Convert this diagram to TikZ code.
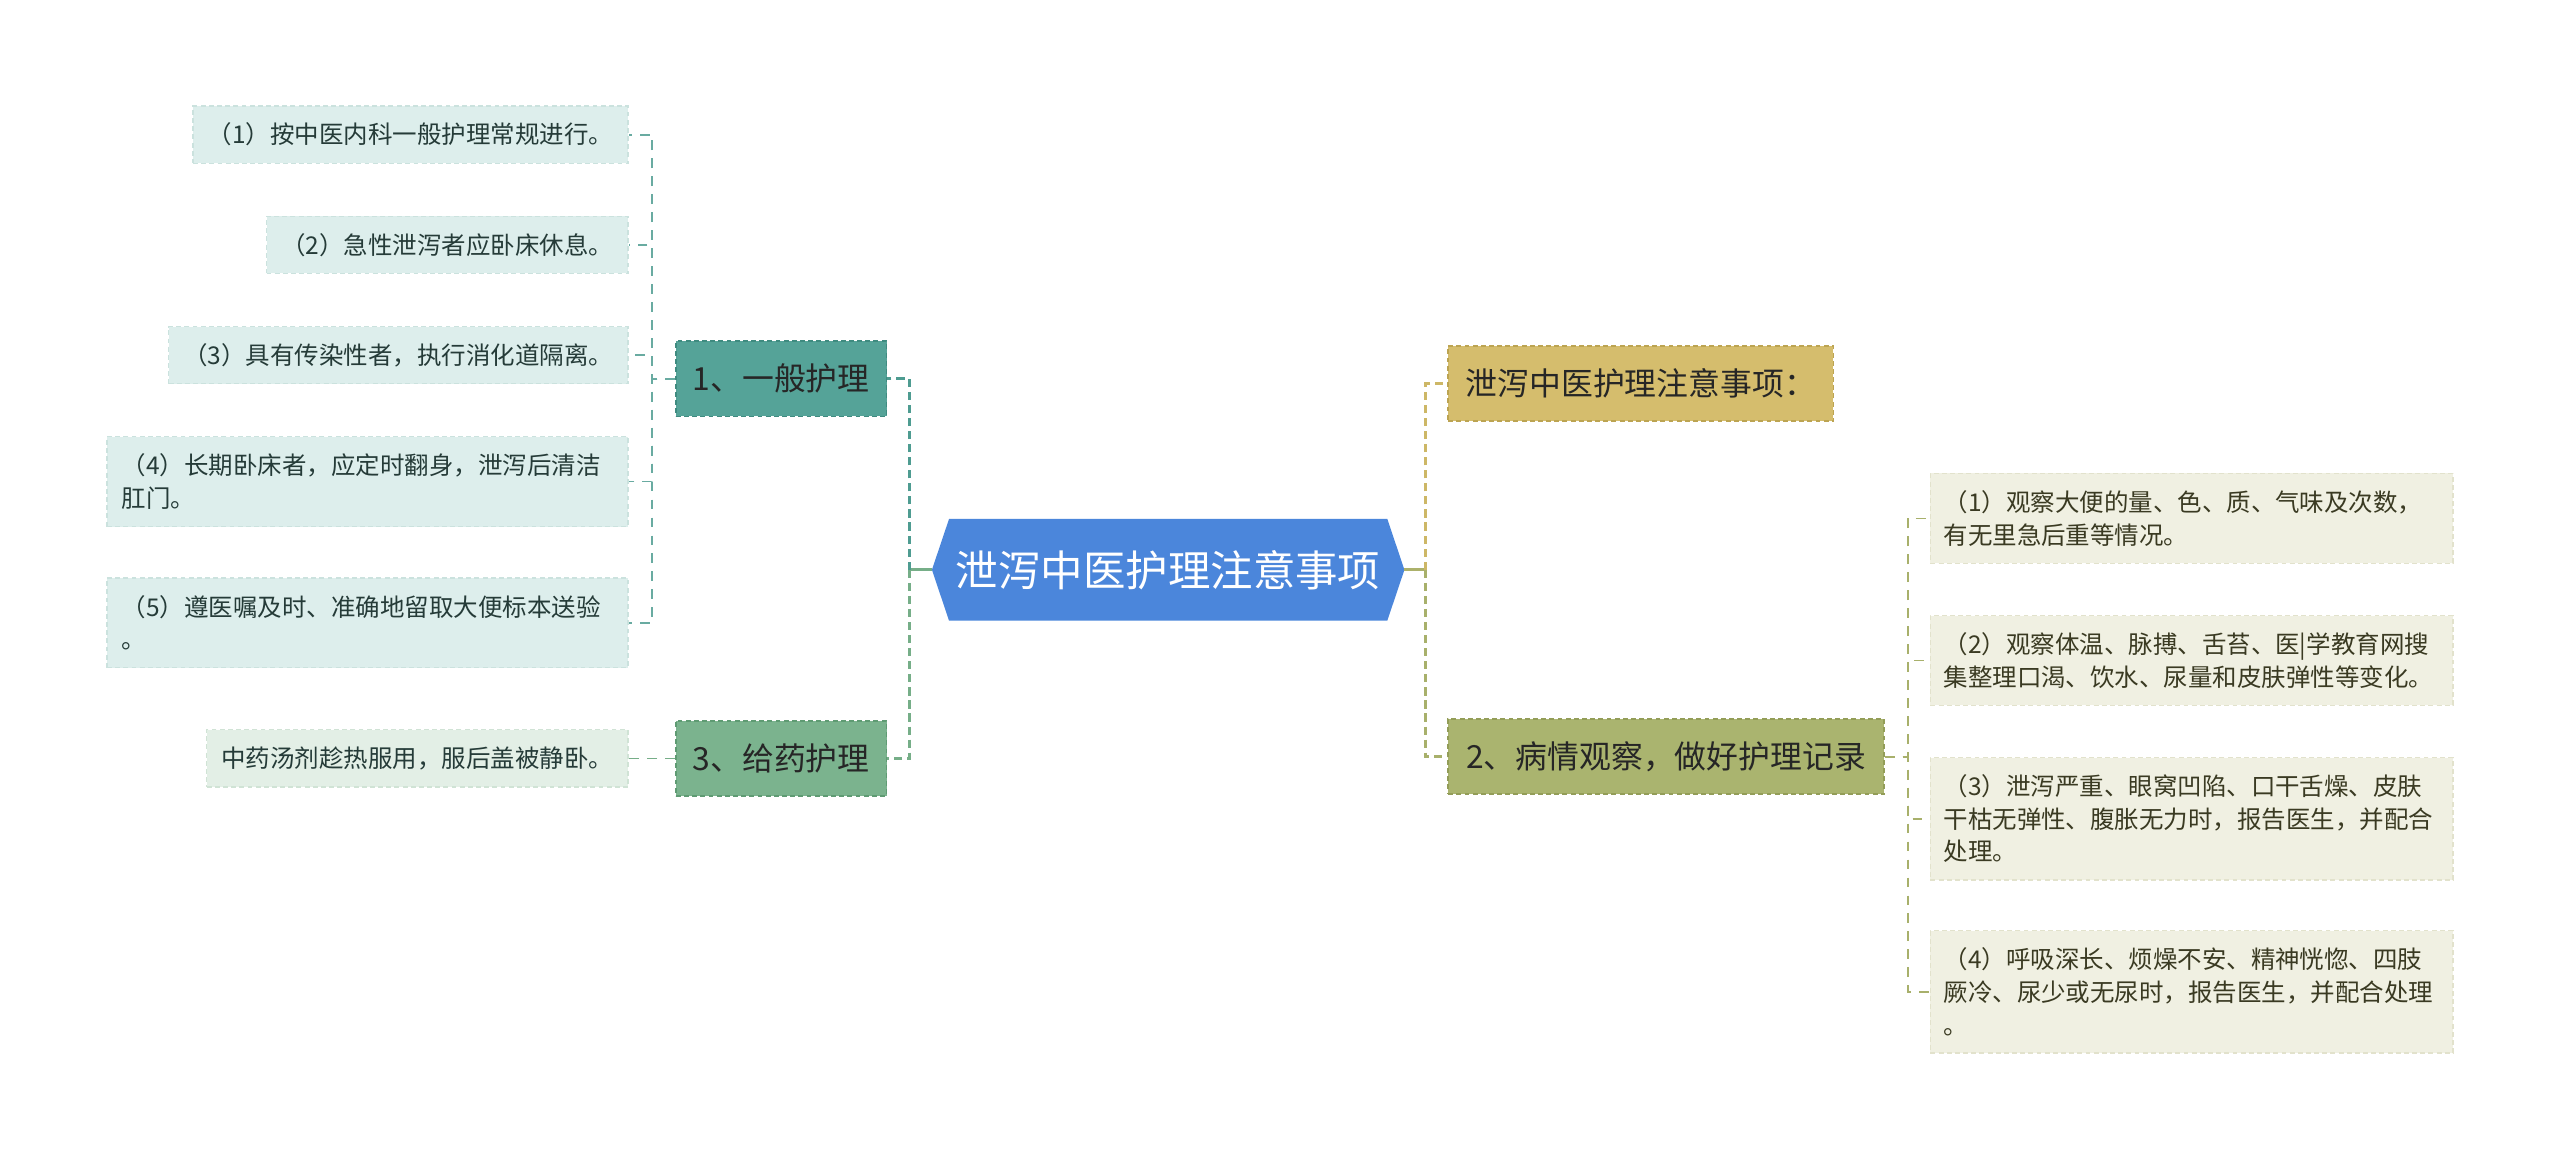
\documentclass[tikz,border=0pt]{standalone}
\usepackage{fontspec}
\setmainfont{Noto Sans CJK SC}
\usetikzlibrary{backgrounds}
\definecolor{leafLc}{HTML}{DDEEEC}
\definecolor{leafLb}{HTML}{CBE2DE}
\definecolor{leafGc}{HTML}{E3EFE6}
\definecolor{leafGb}{HTML}{D0E3D5}
\definecolor{leafRc}{HTML}{F0F0E2}
\definecolor{leafRb}{HTML}{E2E2CC}
\definecolor{bOnec}{HTML}{55A398}
\definecolor{bOneb}{HTML}{3F8B80}
\definecolor{bThreec}{HTML}{7BB38E}
\definecolor{bThreeb}{HTML}{5F9B73}
\definecolor{bAc}{HTML}{D5BD6D}
\definecolor{bAb}{HTML}{BCA452}
\definecolor{bTwoc}{HTML}{AAB46F}
\definecolor{bTwob}{HTML}{939D58}
\definecolor{centc}{HTML}{4B86DB}
\definecolor{txtL}{HTML}{253B38}
\definecolor{txtR}{HTML}{3A3A22}
\definecolor{lnTeal}{HTML}{4E9C91}
\definecolor{lnGreen}{HTML}{76AE88}
\definecolor{lnGold}{HTML}{CDB766}
\definecolor{lnOlive}{HTML}{A8B06B}
\tikzset{
  leafL/.style={fill=leafLc, draw=leafLb, dash pattern=on 3pt off 2pt, line width=0.8pt,
    font=\fontsize{15}{20}\selectfont, text=txtL, inner xsep=9pt, inner ysep=0pt,
    minimum height=35pt, align=left, anchor=east},
  leafG/.style={leafL, fill=leafGc, draw=leafGb},
  leafR/.style={fill=leafRc, draw=leafRb, dash pattern=on 3pt off 2pt, line width=0.8pt,
    font=\fontsize{15}{20}\selectfont, text=txtR, inner xsep=8pt, inner ysep=0pt,
    text width=304pt, align=left, anchor=west},
  branch/.style={dash pattern=on 3pt off 2pt, line width=1pt,
    font=\fontsize{19.5}{22}\selectfont, text=black!85, inner xsep=0pt, inner ysep=0pt,
    minimum height=46pt},
  busdash/.style={line width=1.8pt, dash pattern=on 5pt off 3pt},
  leafdash/.style={line width=1pt, dash pattern=on 6pt off 5pt},
}
\begin{document}
\begin{tikzpicture}[x=1pt,y=-1pt]
\useasboundingbox (0,0) rectangle (1568,711);
\begin{scope}[on background layer]
\fill[white] (0,0) rectangle (1568,711);
\end{scope}

% centre
\node[minimum width=268pt, minimum height=62pt, inner sep=0pt, text=white,
  font=\fontsize{26}{30}\selectfont] (c) at (715.5,349) {泄泻中医护理注意事项};
\begin{scope}[on background layer]
\fill[centc] (c.north west) -- (c.north east) -- ([xshift=10.5pt]c.east) -- (c.south east)
  -- (c.south west) -- ([xshift=-10.5pt]c.west) -- cycle;
\end{scope}
\coordinate (cL) at ([xshift=-10.5pt]c.west);
\coordinate (cR) at ([xshift=10.5pt]c.east);
\coordinate (jL) at (557,349);
\coordinate (jR) at (873,349);

% branches
\node[branch, fill=bOnec, draw=bOneb, minimum width=129pt] (b1) at (478.5,232) {1、一般护理};
\node[branch, fill=bThreec, draw=bThreeb, minimum width=129pt] (b3) at (478.5,464.5) {3、给药护理};
\node[branch, fill=bAc, draw=bAb, minimum width=236pt] (ba) at (1005,235) {泄泻中医护理注意事项：};
\node[branch, fill=bTwoc, draw=bTwob, minimum width=267pt] (b2) at (1020.5,463.5) {2、病情观察，做好护理记录};

% left leaves
\node[leafL] (l1) at (385,82.5) {（1）按中医内科一般护理常规进行。};
\node[leafL] (l2) at (385,150) {（2）急性泄泻者应卧床休息。};
\node[leafL] (l3) at (385,217.5) {（3）具有传染性者，执行消化道隔离。};
\node[leafL, text width=301pt, inner xsep=9pt, minimum height=55pt] (l4) at (385,295)
  {（4）长期卧床者，应定时翻身，泄泻后清洁\\肛门。};
\node[leafL, text width=301pt, inner xsep=9pt, minimum height=55pt] (l5) at (385,381.5)
  {（5）遵医嘱及时、准确地留取大便标本送验\\。};
\node[leafG] (l6) at (385,464.5) {中药汤剂趁热服用，服后盖被静卧。};

% right leaves
\node[leafR, minimum height=55pt] (r1) at (1182,317.5)
  {（1）观察大便的量、色、质、气味及次数，\\有无里急后重等情况。};
\node[leafR, minimum height=55pt] (r2) at (1182,404.5)
  {（2）观察体温、脉搏、舌苔、医|学教育网搜\\集整理口渴、饮水、尿量和皮肤弹性等变化。};
\node[leafR, minimum height=75pt] (r3) at (1182,501.5)
  {（3）泄泻严重、眼窝凹陷、口干舌燥、皮肤\\干枯无弹性、腹胀无力时，报告医生，并配合\\处理。};
\node[leafR, minimum height=75pt] (r4) at (1182,607.5)
  {（4）呼吸深长、烦燥不安、精神恍惚、四肢\\厥冷、尿少或无尿时，报告医生，并配合处理\\。};

% centre connectors
\draw[lnGreen, line width=1.8pt] (cL) -- (jL);
\draw[lnTeal, busdash] (jL) |- (b1.east);
\draw[lnGreen, busdash] (jL) |- (b3.east);
\draw[lnOlive!90!lnGold, line width=1.8pt] (cR) -- (jR);
\draw[lnGold, busdash] (jR) |- (ba.west);
\draw[lnOlive, busdash] (jR) |- (b2.west);

% leaf connectors
\foreach \n in {l1,l2,l3,l4,l5}
  \draw[lnTeal!85, leafdash] (b1.west) -- ++(-14,0) |- (\n.east);
\draw[lnGreen, leafdash] (b3.west) -- (l6.east);
\foreach \n in {r1,r2,r3,r4}
  \draw[lnOlive, leafdash] (b2.east) -- ++(14,0) |- (\n.west);
\end{tikzpicture}
\end{document}
